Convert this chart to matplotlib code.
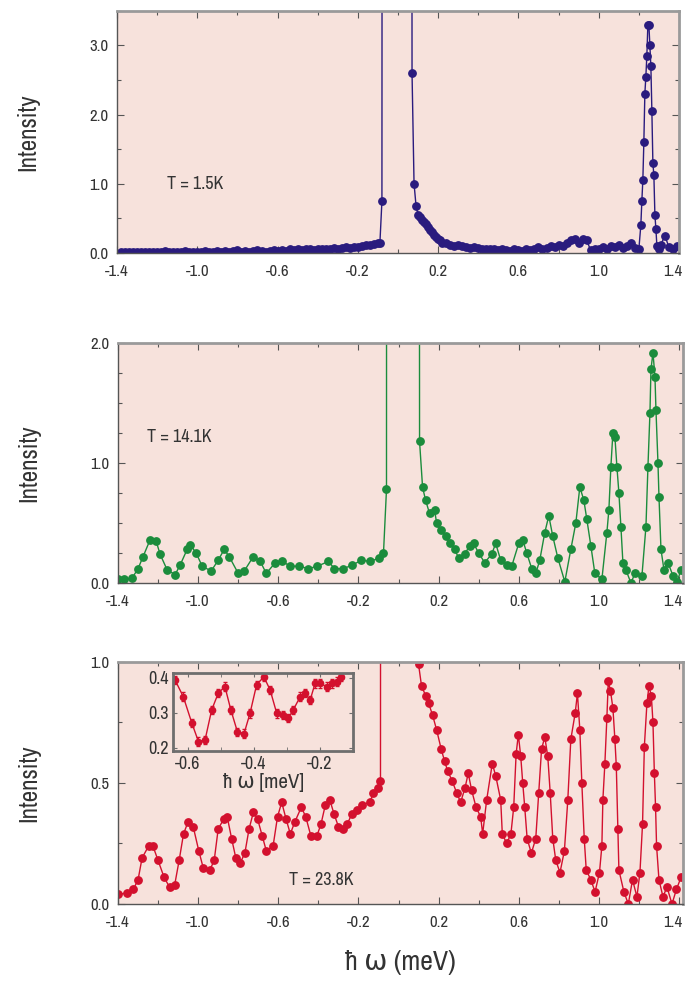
import matplotlib
matplotlib.use("Agg")
import matplotlib.pyplot as plt
import matplotlib.transforms as mtransforms
from matplotlib import font_manager
from matplotlib.ticker import MultipleLocator

# ---------------- data ----------------
x_15K = [-1.38, -1.36, -1.34, -1.32, -1.30, -1.28, -1.26, -1.24, -1.22, -1.20, -1.18, -1.16, -1.14, -1.12,
         -1.10, -1.08, -1.06, -1.04, -1.02, -1.00, -0.98, -0.96, -0.94, -0.92, -0.90, -0.88, -0.86, -0.84,
         -0.82, -0.80, -0.78, -0.76, -0.74, -0.72, -0.70, -0.68, -0.66, -0.64, -0.62, -0.60, -0.58, -0.56,
         -0.54, -0.52, -0.50, -0.48, -0.46, -0.44, -0.42, -0.40, -0.38, -0.36, -0.34, -0.32, -0.30, -0.28,
         -0.26, -0.24, -0.22, -0.20, -0.18, -0.16, -0.14, -0.12, -0.10, -0.09, -0.08, -0.075, 0.065, 0.07,
         0.08, 0.09, 0.10, 0.11, 0.12, 0.13, 0.14, 0.15, 0.16, 0.17, 0.18, 0.19, 0.20, 0.21, 0.22, 0.24,
         0.26, 0.28, 0.30, 0.32, 0.34, 0.36, 0.38, 0.40, 0.42, 0.44, 0.46, 0.48, 0.50, 0.52, 0.54, 0.56,
         0.58, 0.60, 0.62, 0.64, 0.66, 0.68, 0.70, 0.72, 0.74, 0.76, 0.78, 0.80, 0.82, 0.84, 0.86, 0.88,
         0.90, 0.92, 0.94, 0.96, 0.98, 1.00, 1.02, 1.04, 1.06, 1.08, 1.10, 1.12, 1.14, 1.16, 1.18, 1.20,
         1.21, 1.215, 1.22, 1.225, 1.23, 1.235, 1.24, 1.245, 1.25, 1.255, 1.26, 1.265, 1.27, 1.275, 1.28,
         1.285, 1.29, 1.30, 1.31, 1.33, 1.35, 1.37, 1.39, 1.41]
y_15K = [0.02, 0.01, 0.02, 0.01, 0.02, 0.02, 0.01, 0.02, 0.02, 0.01, 0.02, 0.03, 0.02, 0.01,
         0.02, 0.02, 0.03, 0.02, 0.02, 0.01, 0.02, 0.03, 0.02, 0.02, 0.03, 0.02, 0.03, 0.02,
         0.03, 0.04, 0.02, 0.03, 0.02, 0.03, 0.04, 0.03, 0.02, 0.03, 0.04, 0.03, 0.04, 0.03,
         0.05, 0.04, 0.05, 0.04, 0.06, 0.05, 0.04, 0.06, 0.05, 0.06, 0.05, 0.07, 0.06, 0.07,
         0.08, 0.07, 0.09, 0.08, 0.10, 0.12, 0.12, 0.13, 0.15, 0.15, 0.75, 30.0, 30.0, 2.6,
         1.0, 0.68, 0.55, 0.52, 0.48, 0.45, 0.42, 0.38, 0.33, 0.30, 0.26, 0.23, 0.20, 0.18, 0.15, 0.14,
         0.12, 0.10, 0.12, 0.10, 0.08, 0.07, 0.08, 0.07, 0.06, 0.06, 0.05, 0.06, 0.04, 0.05, 0.04, 0.03,
         0.05, 0.04, 0.03, 0.05, 0.04, 0.06, 0.08, 0.05, 0.07, 0.10, 0.08, 0.12, 0.10, 0.14, 0.18, 0.20,
         0.15, 0.20, 0.18, 0.04, 0.06, 0.05, 0.08, 0.06, 0.10, 0.08, 0.12, 0.07, 0.10, 0.15, 0.07, 0.05,
         0.40, 0.75, 1.05, 1.6, 2.3, 2.55, 2.85, 3.3, 3.3, 3.0, 2.7, 2.05, 1.3, 1.12, 0.55,
         0.35, 0.10, 0.05, 0.12, 0.25, 0.08, 0.06, 0.10, 0.10]

x_141K = [-1.40, -1.37, -1.33, -1.30, -1.275, -1.24, -1.21, -1.19, -1.155, -1.115, -1.09, -1.055, -1.04,
          -1.01, -0.98, -0.935, -0.90, -0.87, -0.845, -0.80, -0.77, -0.725, -0.69, -0.66, -0.615, -0.58,
          -0.54, -0.495, -0.45, -0.405, -0.35, -0.32, -0.275, -0.23, -0.185, -0.14, -0.095, -0.075, -0.06,
          -0.055, 0.095, 0.105, 0.12, 0.135, 0.155, 0.18, 0.19, 0.21, 0.235, 0.255, 0.28, 0.30, 0.33, 0.355,
          0.375, 0.40, 0.43, 0.465, 0.485, 0.51, 0.54, 0.565, 0.60, 0.62, 0.64, 0.665, 0.685, 0.705, 0.73,
          0.75, 0.77, 0.795, 0.83, 0.86, 0.885, 0.905, 0.925, 0.94, 0.96, 0.98, 1.015, 1.04, 1.05, 1.06,
          1.07, 1.08, 1.09, 1.10, 1.11, 1.12, 1.135, 1.16, 1.18, 1.215, 1.235, 1.245, 1.255, 1.26, 1.27,
          1.28, 1.285, 1.295, 1.30, 1.31, 1.325, 1.345, 1.37, 1.39, 1.41]
y_141K = [0.03, 0.03, 0.04, 0.12, 0.22, 0.36, 0.35, 0.24, 0.11, 0.07, 0.15, 0.28, 0.32,
          0.25, 0.14, 0.10, 0.19, 0.28, 0.22, 0.08, 0.10, 0.22, 0.18, 0.08, 0.17, 0.18,
          0.14, 0.14, 0.12, 0.14, 0.18, 0.12, 0.12, 0.15, 0.19, 0.18, 0.21, 0.25, 0.78,
          30.0, 30.0, 1.18, 0.80, 0.69, 0.58, 0.61, 0.50, 0.44, 0.39, 0.33, 0.28, 0.21, 0.24, 0.31,
          0.33, 0.25, 0.17, 0.24, 0.33, 0.19, 0.15, 0.14, 0.33, 0.36, 0.25, 0.12, 0.08, 0.19, 0.42,
          0.56, 0.39, 0.21, 0.01, 0.28, 0.50, 0.80, 0.69, 0.53, 0.31, 0.08, 0.03, 0.42, 0.61, 0.97,
          1.25, 1.22, 0.97, 0.75, 0.47, 0.17, 0.11, 0.0, 0.08, 0.06, 0.47, 0.97, 1.42, 1.78, 1.92,
          1.72, 1.44, 1.0, 0.72, 0.28, 0.11, 0.17, 0.06, 0.01, 0.11]

x_238K = [-1.40, -1.356, -1.324, -1.30, -1.28, -1.247, -1.226, -1.20, -1.17, -1.143, -1.117, -1.095,
          -1.073, -1.05, -1.025, -0.997, -0.975, -0.942, -0.92, -0.90, -0.873, -0.855, -0.833, -0.812,
          -0.79, -0.767, -0.746, -0.724, -0.703, -0.68, -0.66, -0.626, -0.604, -0.583, -0.561, -0.54,
          -0.517, -0.485, -0.463, -0.437, -0.408, -0.387, -0.365, -0.343, -0.321, -0.30, -0.278, -0.256,
          -0.234, -0.206, -0.18, -0.143, -0.125, -0.103, -0.09, -0.078, 0.095, 0.10, 0.115, 0.136, 0.15,
          0.17, 0.19, 0.213, 0.23, 0.245, 0.267, 0.29, 0.31, 0.332, 0.348, 0.365, 0.387, 0.41, 0.42,
          0.44, 0.468, 0.485, 0.51, 0.518, 0.54, 0.561, 0.575, 0.587, 0.598, 0.61, 0.62, 0.63, 0.642,
          0.663, 0.685, 0.70, 0.714, 0.73, 0.745, 0.757, 0.77, 0.785, 0.806, 0.828, 0.845, 0.86, 0.882,
          0.893, 0.905, 0.915, 0.927, 0.937, 0.96, 0.981, 1.003, 1.015, 1.02, 1.03, 1.04, 1.047, 1.058,
          1.07, 1.08, 1.087, 1.095, 1.10, 1.125, 1.147, 1.168, 1.19, 1.205, 1.218, 1.227, 1.24, 1.25,
          1.262, 1.27, 1.277, 1.283, 1.288, 1.30, 1.32, 1.34, 1.365, 1.387, 1.41]
y_238K = [0.04, 0.045, 0.06, 0.10, 0.19, 0.24, 0.24, 0.18, 0.11, 0.07, 0.08, 0.18,
          0.29, 0.34, 0.32, 0.22, 0.15, 0.14, 0.18, 0.31, 0.35, 0.36, 0.27, 0.19,
          0.17, 0.21, 0.31, 0.38, 0.35, 0.28, 0.22, 0.24, 0.36, 0.42, 0.35, 0.29,
          0.34, 0.40, 0.36, 0.28, 0.28, 0.33, 0.41, 0.43, 0.37, 0.32, 0.31, 0.33,
          0.37, 0.39, 0.41, 0.42, 0.46, 0.48, 0.51, 30.0, 30.0, 0.99, 0.90, 0.86, 0.83,
          0.78, 0.72, 0.64, 0.59, 0.55, 0.51, 0.46, 0.42, 0.48, 0.54, 0.47, 0.40, 0.36, 0.29,
          0.43, 0.58, 0.53, 0.43, 0.29, 0.25, 0.29, 0.40, 0.62, 0.70, 0.61, 0.50, 0.40, 0.27,
          0.21, 0.27, 0.46, 0.64, 0.69, 0.61, 0.46, 0.27, 0.18, 0.13, 0.22, 0.43, 0.68, 0.79,
          0.87, 0.72, 0.50, 0.27, 0.14, 0.10, 0.05, 0.13, 0.24, 0.43, 0.58, 0.77, 0.92, 0.88,
          0.81, 0.68, 0.57, 0.31, 0.14, 0.05, 0.0, 0.10, 0.03, 0.13, 0.33, 0.65, 0.83, 0.90,
          0.86, 0.75, 0.54, 0.40, 0.24, 0.10, 0.03, 0.07, 0.0, 0.06, 0.11]

x_inset = [-0.639, -0.614, -0.588, -0.568, -0.548, -0.528, -0.508, -0.488, -0.47, -0.45, -0.43,
           -0.412, -0.392, -0.37, -0.351, -0.331, -0.311, -0.296, -0.281, -0.26, -0.245, -0.23,
           -0.215, -0.20, -0.18, -0.165, -0.15, -0.135]
y_inset = [0.394, 0.346, 0.27, 0.217, 0.222, 0.308, 0.356, 0.375, 0.308, 0.245, 0.24,
           0.298, 0.38, 0.403, 0.365, 0.298, 0.293, 0.284, 0.308, 0.346, 0.356, 0.336,
           0.384, 0.384, 0.375, 0.384, 0.389, 0.403]
err_inset = [0.012] * len(x_inset)

labels_T = ["T = 1.5K", "T = 14.1K", "T = 23.8K"]
x_ticks = [-1.4, -1.0, -0.6, -0.2, 0.2, 0.6, 1.0, 1.4]

# ---------------- style ----------------
fam = "Liberation Sans"
stretch = "normal"
for f in font_manager.fontManager.ttflist:
    nm = f.name
    if ("Narrow" in nm or "Condensed" in nm) and f.style == "normal" and f.weight in (400, "normal", "regular"):
        fam = nm
        break
else:
    for f in font_manager.fontManager.ttflist:
        if str(f.stretch) in ("condensed", "semi-condensed") and f.style == "normal" \
                and f.weight in (400, "normal", "regular"):
            fam = f.name
            stretch = "condensed"
            break
plt.rcParams['font.family'] = [fam, 'DejaVu Sans']
plt.rcParams['font.stretch'] = stretch

BG = "#f7e2dc"
C_BLUE = "#2a1b7e"
C_GREEN = "#1b8c3c"
C_RED = "#d3102e"
TXT = "#333333"

fig = plt.figure(figsize=(6.85, 9.84), dpi=100)

rects = [[0.1708, 0.743, 0.8204, 0.246],
         [0.1723, 0.4075, 0.8248, 0.2439],
         [0.1723, 0.0813, 0.8248, 0.246]]
datasets = [(x_15K, y_15K, C_BLUE, 3.5, 1.0, 0.5),
            (x_141K, y_141K, C_GREEN, 2.0, 1.0, 0.25),
            (x_238K, y_238K, C_RED, 1.0, 0.5, 0.25)]
xlims = [(-1.4, 1.40), (-1.4, 1.42), (-1.4, 1.42)]
text_pos = [(-1.15, 1.0), (-1.255, 1.22), (-0.547, 0.10)]


def style_axes(ax, major_len=5, minor_len=3):
    ax.set_facecolor(BG)
    for side in ["left", "bottom"]:
        ax.spines[side].set_color("#555555")
        ax.spines[side].set_linewidth(1.0)
    for side in ["top", "right"]:
        ax.spines[side].set_color("#9a9a9a")
        ax.spines[side].set_linewidth(2.0)
    ax.tick_params(which="both", direction="in", top=True, right=True,
                   color="#555555", labelsize=12, labelcolor=TXT)
    ax.tick_params(which="major", length=major_len, width=0.8)
    ax.tick_params(which="minor", length=minor_len, width=0.8)


axes = []
for i, (rect, (xs, ys, col, ytop, ymaj, ymin)) in enumerate(zip(rects, datasets)):
    ax = fig.add_axes(rect)
    style_axes(ax)
    ax.plot(xs, ys, '-', color=col, lw=1.0, marker='o', ms=5.3, mec=col, mfc=col,
            clip_on=True)
    ax.set_xlim(*xlims[i])
    ax.set_ylim(0, ytop)
    ax.set_xticks(x_ticks)
    ax.set_xticklabels([f"{t:.1f}" for t in x_ticks])
    ax.xaxis.set_minor_locator(MultipleLocator(0.2))
    ax.yaxis.set_major_locator(MultipleLocator(ymaj))
    ax.yaxis.set_minor_locator(MultipleLocator(ymin))
    ax.yaxis.set_major_formatter(matplotlib.ticker.FormatStrFormatter('%.1f'))
    ax.tick_params(axis='x', pad=8)
    ax.tick_params(axis='y', pad=6)
    ax.set_ylabel("Intensity", fontsize=18, labelpad=36, color=TXT)
    tx, ty = text_pos[i]
    ax.text(tx, ty, labels_T[i], fontsize=13, color=TXT, va="center", ha="left")
    # keep the last x label inside the figure
    last = ax.get_xticklabels()[-1]
    last.set_transform(last.get_transform() +
                       mtransforms.ScaledTranslation(-6 / 100, 0, fig.dpi_scale_trans))
    axes.append(ax)

axes[2].set_xlabel("ħ ω (meV)", fontsize=20, labelpad=14, color=TXT)

# inset
axi = fig.add_axes([0.2526, 0.2368, 0.2628, 0.0793])
axi.set_facecolor(BG)
for s in axi.spines.values():
    s.set_color("#6e6e6e")
    s.set_linewidth(2.0)
axi.errorbar(x_inset, y_inset, yerr=err_inset, fmt='-o', color=C_RED, ms=4.5, lw=1.0,
             elinewidth=0.8, capsize=1.5)
axi.set_xlim(-0.645, -0.10)
axi.set_ylim(0.19, 0.414)
axi.set_xticks([-0.6, -0.4, -0.2])
axi.set_xticklabels(["-0.6", "-0.4", "-0.2"])
axi.set_yticks([0.2, 0.3, 0.4])
axi.set_yticklabels(["0.2", "0.3", "0.4"])
axi.xaxis.set_minor_locator(MultipleLocator(0.1))
axi.tick_params(which="both", direction="in", top=True, right=True, labelsize=13,
                color="#6e6e6e", length=3, labelcolor=TXT)
axi.tick_params(axis='y', pad=3)
axi.set_xlabel("ħ ω [meV]", fontsize=15, labelpad=1, color=TXT)

fig.savefig("out.png", dpi=100, facecolor="white")
